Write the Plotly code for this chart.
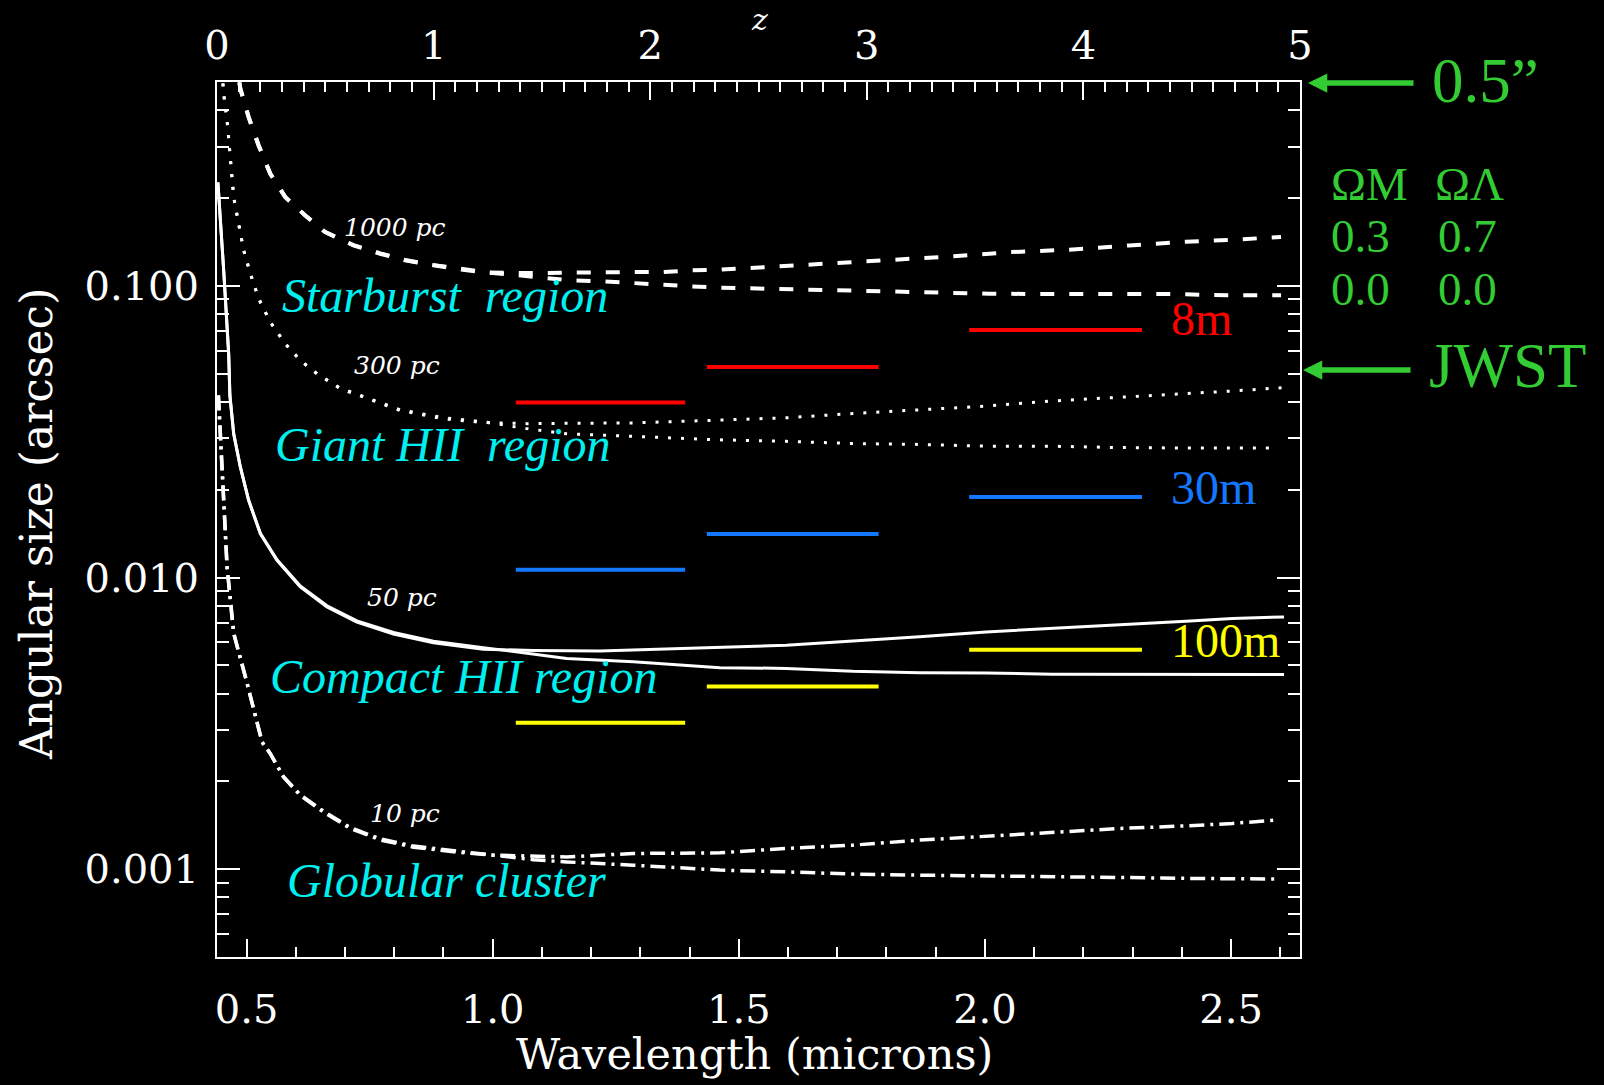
import math
import plotly.graph_objects as go

# ---------------- data ----------------
# wavelength in microns, angular size in arcsec
# 1000 pc (Starburst region)
LAM_1000_LCDM = [0.4854, 0.4875, 0.5043, 0.5246, 0.5483, 0.5788, 0.6193, 0.6599, 0.7173, 0.7715,
                 0.8222, 0.8796, 0.9304, 0.9811, 1.0419, 1.1028, 1.157, 1.2178, 1.2848, 1.3457,
                 1.4004, 1.4613, 1.583, 1.6981, 1.8198, 1.9346, 2.0497, 2.1714, 2.2931, 2.4082,
                 2.5027, 2.6015]
SIZE_1000_LCDM = [0.498, 0.4738, 0.3788, 0.3030, 0.2423, 0.2014, 0.1744, 0.1528, 0.1376, 0.1289,
                  0.1223, 0.1175, 0.1140, 0.1112, 0.1105, 0.1105, 0.1110, 0.1115, 0.1115, 0.1115,
                  0.1130, 0.1136, 0.1166, 0.1197, 0.1229, 0.1262, 0.1305, 0.1330, 0.1376, 0.1417,
                  0.1439, 0.1471]
LAM_1000_EMPTY = [0.4854, 0.4875, 0.5043, 0.5246, 0.5483, 0.5788, 0.6193, 0.6599, 0.7173, 0.7715,
                  0.8222, 0.8796, 0.9304, 0.9811, 1.0419, 1.1028, 1.157, 1.2178, 1.2787, 1.3329,
                  1.3937, 1.4613, 1.6303, 1.7589, 1.8807, 2.0091, 2.1375, 2.2525, 2.381, 2.5021,
                  2.6015]
SIZE_1000_EMPTY = [0.498, 0.4738, 0.3788, 0.3030, 0.2423, 0.2014, 0.1744, 0.1528, 0.1380, 0.1293,
                   0.1227, 0.1178, 0.1148, 0.1115, 0.1092, 0.1062, 0.1044, 0.1038, 0.1022, 0.1009,
                   0.0998, 0.0986, 0.0970, 0.0957, 0.0952, 0.0940, 0.0937, 0.0937, 0.0937, 0.0928,
                   0.0928]

# 300 pc (Giant HII region)
LAM_300_LCDM = [0.452, 0.4536, 0.4605, 0.4672, 0.4739, 0.484, 0.4942, 0.5078, 0.5246, 0.5483,
                0.5788, 0.6092, 0.6431, 0.6904, 0.7445, 0.8121, 0.8999, 0.9811, 1.0691, 1.1503,
                1.2854, 1.4477, 1.5966, 1.7317, 1.8671, 2.0024, 2.1375, 2.2728, 2.4082, 2.5027,
                2.6076]
SIZE_300_LCDM = [0.4942, 0.4557, 0.369, 0.2692, 0.2014, 0.1633, 0.1323, 0.1101, 0.0904, 0.0751,
                 0.0633, 0.0555, 0.0500, 0.0444, 0.0411, 0.0374, 0.0350, 0.0340, 0.0337, 0.0337,
                 0.0339, 0.0346, 0.0353, 0.0365, 0.0376, 0.0387, 0.0403, 0.0414, 0.0427, 0.0436,
                 0.0448]
LAM_300_EMPTY = [0.452, 0.4536, 0.4605, 0.4672, 0.4739, 0.484, 0.4942, 0.5078, 0.5246, 0.5483,
                 0.5788, 0.6092, 0.6431, 0.6904, 0.7445, 0.8121, 0.8999, 0.9811, 1.0691, 1.1503,
                 1.2854, 1.4477, 1.5966, 1.7317, 1.8671, 2.0024, 2.1375, 2.2728, 2.4082, 2.5962]
SIZE_300_EMPTY = [0.4942, 0.4557, 0.369, 0.2692, 0.2014, 0.1633, 0.1323, 0.1101, 0.0904, 0.0751,
                  0.0633, 0.0555, 0.0500, 0.0446, 0.0413, 0.0376, 0.0353, 0.0342, 0.0324, 0.0311,
                  0.0305, 0.0297, 0.0293, 0.0288, 0.0286, 0.0282, 0.0282, 0.0279, 0.0278, 0.0278]

# 50 pc (Compact HII region)
LAM_50_LCDM = [0.4418, 0.4483, 0.4536, 0.4637, 0.4662, 0.4739, 0.4875, 0.5043, 0.5281, 0.5619,
               0.6092, 0.6634, 0.7242, 0.7985, 0.8796, 0.9811, 1.0825, 1.2178, 1.3193, 1.4613,
               1.5966, 1.7317, 1.8671, 2.0024, 2.1375, 2.2728, 2.4082, 2.5027, 2.6076]
SIZE_50_LCDM = [0.2262, 0.1590, 0.1130, 0.0585, 0.0421, 0.0311, 0.0239, 0.0184, 0.01415, 0.01146,
                0.00928, 0.00793, 0.00704, 0.00640, 0.00598, 0.00568, 0.00562, 0.00560, 0.00566,
                0.00575, 0.00586, 0.00606, 0.00626, 0.00651, 0.00669, 0.00686, 0.00708, 0.00724,
                0.00733]
LAM_50_EMPTY = [0.4418, 0.4483, 0.4536, 0.4637, 0.4662, 0.4739, 0.4875, 0.5043, 0.5281, 0.5619,
                0.6092, 0.6634, 0.7242, 0.7985, 0.8796, 0.9811, 1.0825, 1.1503, 1.2854, 1.4613,
                1.5966, 1.7317, 1.8671, 2.0024, 2.1375, 2.2728, 2.6076]
SIZE_50_EMPTY = [0.2262, 0.1590, 0.1130, 0.0585, 0.0421, 0.0311, 0.0239, 0.0184, 0.01415, 0.01150,
                 0.00935, 0.00800, 0.00710, 0.00648, 0.00605, 0.00575, 0.00545, 0.00528, 0.00514,
                 0.00491, 0.00488, 0.00477, 0.00472, 0.00471, 0.00466, 0.00465, 0.00465]

# 10 pc (Globular cluster)
LAM_10_LCDM = [0.4428, 0.4449, 0.4536, 0.4605, 0.4739, 0.5011, 0.5315, 0.5483, 0.5753, 0.6092,
               0.6565, 0.7106, 0.7715, 0.8391, 0.9202, 1.0014, 1.0825, 1.1503, 1.2854, 1.4613,
               1.5966, 1.7317, 1.8671, 2.0024, 2.1375, 2.2728, 2.4082, 2.5027, 2.5904]
SIZE_10_LCDM = [0.0421, 0.0365, 0.0184, 0.01084, 0.00644, 0.00434, 0.00273, 0.00249, 0.00207,
                0.00179, 0.00157, 0.00138, 0.00126, 0.00119, 0.001147, 0.001117, 0.001105,
                0.001102, 0.001132, 0.001138, 0.001178, 0.001209, 0.001258, 0.001298, 0.001343,
                0.001379, 0.001408, 0.001435, 0.001473]
LAM_10_EMPTY = [0.4428, 0.4449, 0.4536, 0.4605, 0.4739, 0.5011, 0.5315, 0.5483, 0.5753, 0.6092,
                0.6565, 0.7106, 0.7715, 0.8391, 0.9202, 1.0014, 1.0825, 1.1503, 1.2854, 1.4613,
                1.5966, 1.7317, 1.8671, 2.0024, 2.1375, 2.2728, 2.4082, 2.5962]
SIZE_10_EMPTY = [0.0421, 0.0365, 0.0184, 0.01084, 0.00644, 0.00434, 0.00273, 0.00249, 0.00207,
                 0.00180, 0.00158, 0.00139, 0.00127, 0.00120, 0.001155, 0.001117, 0.001078,
                 0.001059, 0.001032, 0.000993, 0.000979, 0.000962, 0.000954, 0.000950, 0.000947,
                 0.000937, 0.000930, 0.000925]

# diffraction limits in the J, H, K bands
BAND_LO = [1.047, 1.435, 1.968]
BAND_HI = [1.391, 1.784, 2.319]
TELESCOPES = ["8m", "30m", "100m"]
RES_8M = [0.0398, 0.0527, 0.0706]
RES_30M = [0.01063, 0.01411, 0.01888]
RES_100M = [0.00318, 0.00423, 0.00565]

REGION_LABELS = ["Starburst  region", "Giant HII  region", "Compact HII region", "Globular cluster"]
SIZE_LABELS = ["1000 pc", "300 pc", "50 pc", "10 pc"]

X_TICKS = [0.5, 1.0, 1.5, 2.0, 2.5]
X_TICKTEXT = ["0.5", "1.0", "1.5", "2.0", "2.5"]
Z_TICKS = [0, 1, 2, 3, 4, 5]
Y_TICKS = [0.001, 0.01, 0.1]
Y_TICKTEXT = ["0.001", "0.010", "0.100"]
Y_MINOR = [0.0006, 0.0007, 0.0008, 0.0009,
           0.002, 0.003, 0.004, 0.005, 0.006, 0.007, 0.008, 0.009,
           0.02, 0.03, 0.04, 0.05, 0.06, 0.07, 0.08, 0.09,
           0.2, 0.3, 0.4]
LAM_RANGE = [0.44, 2.64]
Z_RANGE = [0, 5]
SIZE_RANGE = [0.0005, 0.5]
COSMO_HEAD = ["ΩM", "ΩΛ"]
COSMO_ROWS = [["0.3", "0.7"], ["0.0", "0.0"]]
MARKERS = ["0.5”", "JWST"]

# ---------------- styling ----------------
W, H = 1604, 1085
ML, MR, MT, MB = 217, 304, 82, 128
PW, PH = W - ML - MR, H - MT - MB
WHITE = "white"
GREEN = "#33cc33"
CYAN = "#00f0f0"
BAR_COLORS = ["#ff0000", "#1478ff", "#ffff00"]
AXFONT = "DejaVu Serif"
SERIF = "Liberation Serif"


def px(x):
    return (x - ML) / PW


def py(y):
    return (MT + PH - y) / PH


fig = go.Figure()

curves = [
    (LAM_1000_LCDM, SIZE_1000_LCDM, 4, "14px,15px"),
    (LAM_1000_EMPTY, SIZE_1000_EMPTY, 4, "14px,15px"),
    (LAM_300_LCDM, SIZE_300_LCDM, 3, "3px,10px"),
    (LAM_300_EMPTY, SIZE_300_EMPTY, 3, "3px,10px"),
    (LAM_50_LCDM, SIZE_50_LCDM, 3, "solid"),
    (LAM_50_EMPTY, SIZE_50_EMPTY, 3, "solid"),
    (LAM_10_LCDM, SIZE_10_LCDM, 3.5, "15px,6px,3px,6px"),
    (LAM_10_EMPTY, SIZE_10_EMPTY, 3.5, "15px,6px,3px,6px"),
]
for lam, size, w, d in curves:
    fig.add_trace(go.Scatter(x=lam, y=size, mode="lines",
                             line=dict(color=WHITE, width=w, dash=d),
                             hoverinfo="skip", showlegend=False))

for res, col in zip([RES_8M, RES_30M, RES_100M], BAR_COLORS):
    for lo, hi, r in zip(BAND_LO, BAND_HI, res):
        fig.add_trace(go.Scatter(x=[lo, hi], y=[r, r], mode="lines",
                                 line=dict(color=col, width=4),
                                 hoverinfo="skip", showlegend=False))

# invisible trace so that the redshift axis on top is drawn
fig.add_trace(go.Scatter(x=Z_RANGE, y=SIZE_RANGE, xaxis="x2", yaxis="y", mode="lines",
                         line=dict(width=0, color="rgba(0,0,0,0)"), opacity=0,
                         hoverinfo="skip", showlegend=False))

tickfont = dict(family=AXFONT, size=40, color=WHITE)
fig.update_layout(
    width=W, height=H,
    margin=dict(l=ML, r=MR, t=MT, b=MB, pad=0),
    paper_bgcolor="black", plot_bgcolor="black",
    xaxis=dict(range=LAM_RANGE, tickmode="array", tickvals=X_TICKS, ticktext=X_TICKTEXT,
               ticks="inside", ticklen=18, tickwidth=2, tickcolor=WHITE,
               showline=True, linecolor=WHITE, linewidth=2, mirror=False,
               showgrid=False, zeroline=False, tickfont=tickfont, ticklabelstandoff=16,
               minor=dict(ticks="inside", ticklen=10, tickwidth=2, tickcolor=WHITE,
                          dtick=0.1, tick0=0, showgrid=False)),
    xaxis2=dict(range=Z_RANGE, overlaying="x", side="top", anchor="y",
                tickmode="array", tickvals=Z_TICKS,
                ticks="inside", ticklen=18, tickwidth=2, tickcolor=WHITE,
                showline=True, linecolor=WHITE, linewidth=2,
                showgrid=False, zeroline=False, tickfont=tickfont, ticklabelstandoff=5,
                minor=dict(ticks="inside", ticklen=10, tickwidth=2, tickcolor=WHITE,
                           dtick=0.1, tick0=0, showgrid=False)),
    yaxis=dict(type="log", range=[math.log10(SIZE_RANGE[0]), math.log10(SIZE_RANGE[1])],
               tickmode="array", tickvals=Y_TICKS, ticktext=Y_TICKTEXT,
               ticks="inside", ticklen=23, tickwidth=2, tickcolor=WHITE,
               showline=True, linecolor=WHITE, linewidth=2, mirror="ticks",
               showgrid=False, zeroline=False, tickfont=tickfont, ticklabelstandoff=8,
               minor=dict(ticks="inside", ticklen=12, tickwidth=2, tickcolor=WHITE,
                          tickvals=Y_MINOR, showgrid=False)),
)

ann = []
# axis titles
ann.append(dict(x=px(754), y=py(1054), text="Wavelength (microns)", showarrow=False,
                font=dict(family=AXFONT, size=43, color=WHITE), xanchor="center", yanchor="middle"))
ann.append(dict(x=px(36), y=py(524), text="Angular size (arcsec)", showarrow=False, textangle=-90,
                font=dict(family=AXFONT, size=44, color=WHITE), xanchor="center", yanchor="middle"))
ann.append(dict(x=px(759), y=py(20), text="<i>z</i>", showarrow=False,
                font=dict(family=AXFONT, size=30, color=WHITE), xanchor="center", yanchor="middle"))

# region labels (cyan italic)
for txt, (x, y) in zip(REGION_LABELS, [(280, 295), (273, 444), (268, 676), (285, 880)]):
    ann.append(dict(x=px(x), y=py(y), text="<i>" + txt.replace(" ", "&nbsp;") + "</i>", showarrow=False,
                    font=dict(family=SERIF, size=48, color=CYAN), xanchor="left", yanchor="middle"))

# size labels
for txt, (x, y) in zip(SIZE_LABELS, [(342, 228), (352, 365), (365, 598), (368, 813)]):
    ann.append(dict(x=px(x), y=py(y), text="<i>" + txt + "</i>", showarrow=False,
                    font=dict(family=AXFONT, size=25, color=WHITE), xanchor="left", yanchor="middle"))

# telescope labels
for txt, col, y in zip(TELESCOPES, BAR_COLORS, [318, 487, 640]):
    ann.append(dict(x=px(1169), y=py(y), text=txt, showarrow=False,
                    font=dict(family=SERIF, size=48, color=col), xanchor="left", yanchor="middle"))

# green markers with arrows
for txt, ytxt, yarr, xtip, xtail in zip(MARKERS, [81, 366], [83, 370], [1308, 1303], [1415, 1412]):
    ann.append(dict(x=px(xtip), y=py(yarr), ax=xtail - xtip, ay=0, axref="pixel", ayref="pixel",
                    text="", showarrow=True, arrowhead=2, arrowsize=0.7, arrowwidth=5.5,
                    arrowcolor=GREEN, standoff=0, startstandoff=0))
    ann.append(dict(x=px(xtail + 15), y=py(ytxt), text=txt, showarrow=False,
                    font=dict(family=SERIF, size=63, color=GREEN), xanchor="left", yanchor="middle"))

# cosmology table
for i, xc in enumerate([1329, 1433]):
    ann.append(dict(x=px(xc), y=py(184), text=COSMO_HEAD[i], showarrow=False,
                    font=dict(family=SERIF, size=47, color=GREEN), xanchor="left", yanchor="middle"))
for row, y in zip(COSMO_ROWS, [236, 289]):
    for txt, xc in zip(row, [1329, 1436]):
        ann.append(dict(x=px(xc), y=py(y), text=txt, showarrow=False,
                        font=dict(family=SERIF, size=47, color=GREEN), xanchor="left", yanchor="middle"))

for a in ann:
    a.setdefault("xref", "paper")
    a.setdefault("yref", "paper")
fig.update_layout(annotations=ann)

fig.write_html("out.html")
